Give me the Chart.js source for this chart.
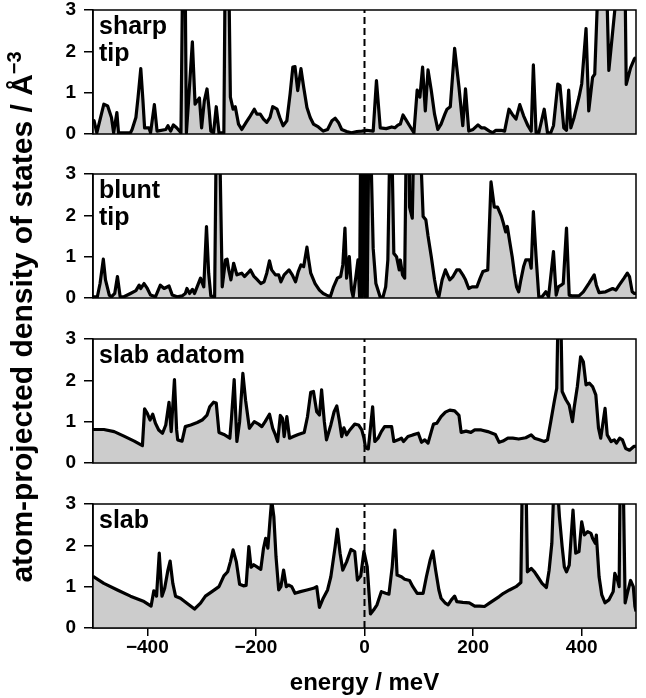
<!DOCTYPE html>
<html>
<head>
<meta charset="utf-8">
<script src="https://cdn.jsdelivr.net/npm/chart.js@4.4.1/dist/chart.umd.min.js"></script>
<style>
  html, body { margin: 0; padding: 0; background: #fff; }
  #fig { position: relative; width: 646px; height: 698px; overflow: hidden; }
  canvas { position: absolute; left: 0; }
  #ylabel {
    position: absolute; left: -328px; top: 300px; width: 700px; height: 34px;
    line-height: 34px; text-align: center; transform: rotate(-90deg);
    font: bold 30px "Liberation Sans", Arial, sans-serif; color: #000; white-space: nowrap;
  }
  #ylabel sup { font-size: 20px; line-height: 0; vertical-align: 11px; }
</style>
</head>
<body>
<div id="fig">
  <canvas id="p1" width="646" height="164" style="top:-10px"></canvas>
  <canvas id="p2" width="646" height="164" style="top:154px"></canvas>
  <canvas id="p3" width="646" height="164" style="top:319px"></canvas>
  <canvas id="p4" width="646" height="214" style="top:484px"></canvas>
  <div id="ylabel">atom-projected density of states / Å<sup>−3</sup></div>
</div>
<script>
// ── data (energy in meV, DOS in Å^-3) ──────────────────────────
const xTicks = [-400, -200, 0, 200, 400];
const yTicks = [0, 1, 2, 3];

const sharpE = [-500, -498, -493, -480, -473, -466, -462, -456, -453, -431, -428, -421, -417, -412, -408, -405,
  -397, -394, -387, -382, -366, -362, -357, -352, -346, -338, -334, -331, -328, -324, -317, -312, -308, -304,
  -300, -295, -290, -286, -283, -278, -273, -268, -259, -256, -251, -247, -242, -238, -232, -226, -218, -212,
  -203, -198, -192, -186, -180, -174, -169, -161, -156, -150, -143, -137, -132, -128, -123, -117, -112, -106,
  -100, -94, -85, -76, -68, -60, -54, -48, -42, -33, -24, -14, -5, 4, 16, 22, 29, 40, 50, 56, 62, 66, 71, 77,
  83, 91, 97, 102, 107, 112, 117, 123, 129, 135, 141, 148, 152, 158, 166, 174, 181, 186, 192, 200, 209, 215,
  221, 230, 236, 242, 252, 258, 266, 272, 279, 286, 293, 301, 307, 311, 316, 321, 331, 337, 343, 348, 356, 360,
  367, 372, 376, 380, 386, 395, 400, 408, 413, 420, 424, 430, 438, 446, 450, 467, 475, 480, 482, 490, 497, 500];
const sharpDos = [0.30, 0.32, 0.03, 0.72, 0.68, 0.40, 0.03, 0.52, 0.03, 0.03, 0.11, 0.40, 0.89, 1.58, 0.80, 0.15,
  0.15, 0.03, 0.71, 0.07, 0.11, 0.20, 0.07, 0.22, 0.15, 0.03, 5.0, 5.0, 0.03, 0.80, 2.23, 0.72, 0.80, 0.87,
  0.15, 0.80, 1.09, 0.56, 0.07, 0.03, 0.66, 0.03, 0.03, 5.0, 5.0, 0.89, 0.60, 0.66, 0.24, 0.11, 0.28, 0.40,
  0.60, 0.48, 0.48, 0.36, 0.28, 0.40, 0.66, 0.60, 0.40, 0.20, 0.32, 0.97, 1.62, 1.63, 1.05, 1.58, 1.13, 0.64,
  0.40, 0.24, 0.17, 0.07, 0.11, 0.32, 0.38, 0.28, 0.11, 0.06, 0.03, 0.06, 0.07, 0.09, 0.07, 1.29, 0.15, 0.13, 0.17, 0.15, 0.22, 0.24, 0.46, 0.33,
  0.20, 0.03, 1.06, 0.89, 1.62, 0.56, 1.55, 1.05, 0.48, 0.11, 0.24, 0.48, 0.60, 0.66, 2.07, 1.13, 0.20, 1.09, 0.07, 0.11, 0.22, 0.15,
  0.15, 0.07, 0.03, 0.09, 0.09, 0.07, 0.60, 0.48, 0.36, 0.71, 0.44, 0.20, 0.07, 1.67, 0.03, 0.03, 0.60, 0.03, 0.03, 0.20, 1.21, 1.17,
  0.15, 0.09, 1.06, 0.15, 0.40, 0.89, 1.21, 2.55, 0.56, 1.37, 1.45, 3.6, 4.0, 3.6, 1.54, 3.8, 4.0, 3.5, 1.20, 1.60, 1.82, 1.85];

const bluntE = [-500, -492, -487, -481, -477, -470, -466, -460, -455, -450, -443, -431, -421, -415, -412, -406,
  -400, -394, -385, -376, -369, -360, -354, -345, -336, -330, -327, -322, -317, -313, -307, -302, -296, -291,
  -287, -283, -276, -273, -267, -262, -256, -253, -250, -246, -241, -235, -226, -221, -215, -210, -204, -198,
  -191, -185, -180, -175, -171, -164, -158, -154, -148, -139, -133, -127, -122, -117, -112, -106, -103, -99,
  -91, -83, -76, -70, -63, -57, -50, -44, -40, -36, -33, -28, -24, -21, -16, -12, -9, -7, -5, -3, -1, 1, 3, 5,
  8, 11, 16, 21, 29, 34, 39, 43, 47, 50, 54, 59, 64, 66, 70, 74, 77, 82, 83, 88, 91, 102, 108, 113, 117, 123,
  129, 133, 137, 143, 149, 157, 163, 170, 175, 181, 186, 192, 198, 207, 213, 218, 227, 233, 239, 245, 252, 256,
  260, 263, 267, 272, 276, 280, 284, 288, 293, 297, 304, 307, 311, 316, 321, 327, 334, 339, 348, 353, 357, 362,
  366, 372, 377, 383, 395, 403, 413, 423, 427, 432, 444, 457, 463, 469, 478, 484, 488, 493, 497, 500];
const bluntDos = [0.03, 0.03, 0.35, 0.94, 0.44, 0.07, 0.03, 0.11, 0.52, 0.03, 0.03, 0.11, 0.18, 0.31, 0.23, 0.35,
  0.23, 0.07, 0.03, 0.31, 0.23, 0.29, 0.07, 0.03, 0.05, 0.11, 0.23, 0.11, 0.21, 0.11, 0.31, 0.48, 0.27, 1.73,
  0.60, 0.05, 0.03, 4.0, 4.0, 0.27, 0.92, 0.94, 0.68, 0.44, 0.84, 0.56, 0.60, 0.52, 0.60, 0.68, 0.53, 0.45,
  0.35, 0.39, 0.60, 0.90, 0.68, 0.56, 0.56, 0.39, 0.56, 0.68, 0.56, 0.39, 0.64, 0.80, 0.76, 1.23, 0.94, 0.60,
  0.35, 0.19, 0.11, 0.07, 0.03, 0.27, 0.48, 0.52, 0.80, 1.69, 0.48, 1.00, 0.20, 0.03, 0.50, 0.92, 0.03, 4.0, 0.03, 4.0, 4.0, 0.03, 4.0, 0.03,
  4.0, 4.0, 1.20, 0.35, 0.02, 0.02, 0.27, 0.92, 4.0, 4.0, 1.08, 1.00, 0.68, 0.92, 0.56, 0.48, 4.0, 4.0, 2.20, 1.93, 4.0, 4.0, 1.97, 1.89, 1.50, 1.00,
  0.44, 0.15, 0.03, 0.44, 0.68, 0.44, 0.52, 0.68, 0.68, 0.56, 0.44, 0.23, 0.27, 0.27, 0.48, 0.64, 0.68, 2.81, 2.20, 2.20, 1.98, 1.80,
  1.60, 1.73, 1.40, 1.00, 0.60, 0.27, 0.15, 0.44, 0.76, 0.92, 0.92, 0.72, 2.09, 1.00, 0.03, 0.03, 0.15, 0.03, 1.12, 0.07, 0.27, 0.31,
  0.35, 1.69, 0.07, 0.05, 0.05, 0.15, 0.35, 0.56, 0.31, 0.13, 0.15, 0.23, 0.19, 0.31, 0.48, 0.60, 0.52, 0.15, 0.11, 0.11];

const adatomE = [-500, -480, -461, -443, -424, -409, -405, -400, -395, -390, -385, -379, -372, -366, -360, -356,
  -350, -346, -344, -336, -330, -320, -308, -299, -290, -285, -278, -273, -268, -259, -248, -245, -240, -235,
  -230, -224, -219, -212, -203, -195, -189, -183, -175, -169, -164, -160, -155, -151, -148, -143, -138, -131,
  -122, -111, -105, -99, -94, -88, -83, -79, -74, -70, -62, -56, -51, -46, -42, -38, -33, -27, -18, -11, -5,
  -1, 2, 7, 15, 19, 25, 31, 37, 50, 54, 62, 68, 72, 80, 89, 99, 105, 111, 117, 123, 127, 133, 141, 149, 157,
  166, 174, 178, 187, 196, 203, 215, 227, 241, 248, 255, 264, 273, 284, 297, 307, 313, 322, 331, 337, 343,
  349, 354, 357, 361, 364, 371, 377, 383, 386, 392, 398, 403, 408, 414, 420, 426, 431, 435, 443, 447, 454,
  460, 464, 470, 475, 481, 488, 496, 500];
const adatomDos = [0.81, 0.81, 0.76, 0.65, 0.53, 0.42, 1.31, 1.20, 1.04, 1.18, 0.96, 0.80, 0.72, 0.92, 1.47, 0.76,
  2.02, 0.80, 0.56, 0.53, 0.88, 0.92, 0.98, 1.04, 1.16, 1.36, 1.47, 1.45, 0.74, 0.69, 0.60, 1.08, 2.02, 0.52,
  1.00, 2.17, 1.52, 0.84, 1.00, 0.94, 0.88, 1.00, 1.18, 0.84, 0.68, 0.52, 1.15, 1.08, 0.64, 1.12, 0.60, 0.64,
  0.69, 0.74, 1.12, 1.71, 1.73, 1.24, 1.16, 1.77, 1.00, 0.56, 0.92, 1.24, 1.38, 1.00, 0.64, 0.85, 0.68, 0.80, 0.94, 0.92, 0.80,
  0.60, 0.37, 0.34, 1.36, 0.52, 0.60, 0.76, 0.88, 0.88, 0.52, 0.56, 0.60, 0.52, 0.64, 0.68, 0.72, 0.50, 0.56, 0.48, 0.76, 0.94, 0.96, 1.12, 1.23, 1.28,
  1.26, 1.15, 0.74, 0.77, 0.74, 0.80, 0.80, 0.76, 0.69, 0.50, 0.53, 0.60, 0.60, 0.58, 0.61, 0.68, 0.60, 0.56, 0.52, 0.56, 1.00,
  1.45, 1.81, 4.0, 4.0, 1.73, 1.53, 1.40, 1.00, 1.33, 1.85, 2.57, 2.45, 1.89, 1.93, 1.85, 1.65, 0.84, 0.60, 1.32, 0.68, 0.52,
  0.56, 0.48, 0.60, 0.56, 0.35, 0.31, 0.40, 0.40];

const slabE = [-500, -480, -455, -431, -406, -393, -388, -383, -378, -373, -368, -362, -358, -353, -348, -339,
  -327, -313, -302, -293, -281, -268, -259, -252, -247, -242, -236, -230, -223, -218, -213, -209, -204, -198,
  -191, -186, -182, -178, -174, -171, -167, -163, -158, -154, -149, -144, -140, -134, -128, -118, -106, -94,
  -88, -83, -76, -68, -62, -54, -50, -45, -40, -33, -25, -18, -13, -7, -1, 5, 11, 17, 23, 31, 39, 45, 51, 56,
  60, 68, 74, 83, 89, 97, 108, 114, 121, 126, 131, 137, 141, 149, 154, 160, 166, 170, 181, 193, 203, 212, 221,
  230, 239, 248, 256, 267, 279, 288, 291, 297, 300, 307, 313, 319, 327, 335, 340, 345, 349, 355, 359, 364, 368,
  372, 377, 384, 389, 395, 400, 405, 411, 417, 420, 425, 427, 432, 437, 443, 450, 458, 461, 466, 469, 471, 476,
  480, 484, 490, 495, 498, 500];
const slabDos = [1.25, 1.08, 0.92, 0.77, 0.64, 0.53, 0.90, 0.77, 1.81, 0.77, 0.96, 1.40, 1.62, 1.08, 0.77, 0.72,
  0.60, 0.46, 0.60, 0.77, 0.88, 1.00, 1.26, 1.36, 1.60, 1.89, 1.60, 1.06, 1.02, 1.03, 1.97, 1.47, 1.53, 1.48,
  1.42, 1.93, 2.17, 1.93, 2.61, 3.10, 2.70, 1.73, 0.92, 1.00, 1.40, 1.00, 1.04, 1.00, 0.84, 0.88, 0.92, 0.96,
  1.00, 0.50, 0.72, 0.92, 1.24, 1.97, 2.39, 1.81, 1.40, 1.60, 1.90, 1.85, 1.16, 1.26, 1.85, 1.48, 0.34, 0.44, 0.56, 0.88, 0.84, 0.82, 1.48, 2.37,
  1.28, 1.24, 1.18, 1.15, 1.00, 0.84, 0.84, 1.24, 1.65, 1.86, 1.40, 0.92, 0.72, 0.60, 0.56, 0.68, 0.77, 0.64, 0.62, 0.61, 0.53, 0.53, 0.52,
  0.60, 0.68, 0.76, 0.84, 0.92, 1.00, 1.10, 4.0, 4.0, 1.36, 1.44, 1.36, 1.24, 1.08, 0.98, 1.40, 2.05, 3.5, 3.5, 2.69, 1.97, 1.48,
  1.36, 1.52, 2.85, 1.81, 1.85, 2.57, 2.25, 2.33, 2.29, 2.17, 2.05, 2.25, 1.24, 0.80, 0.61, 0.68, 0.88, 1.32, 1.16, 1.00, 4.0, 4.0,
  0.61, 0.84, 1.15, 1.00, 0.52, 0.40];

// ── styling ────────────────────────────────────────────────────
const FONT = '"Liberation Sans", Arial, sans-serif';
const tickFont = { family: FONT, size: 19, weight: 'bold' };

const framePlugin = {
  id: 'frame',
  afterDatasetsDraw(chart) {
    const { ctx, chartArea: a } = chart;
    ctx.save();
    ctx.strokeStyle = '#000';
    ctx.lineWidth = 1.5;
    ctx.strokeRect(a.left, a.top, a.right - a.left, a.bottom - a.top);
    ctx.restore();
  },
};

const labelPlugin = {
  id: 'panelLabel',
  afterDraw(chart, args, opts) {
    const { ctx, chartArea: a } = chart;
    ctx.save();
    ctx.font = 'bold 25px ' + FONT;
    ctx.fillStyle = '#000';
    ctx.textBaseline = 'alphabetic';
    opts.lines.forEach((t, i) => ctx.fillText(t, a.left + 6, a.top + 24 + i * 27));
    ctx.restore();
  },
};

function panel(id, energy, dos, lines, last) {
  const xScale = last ? {
    type: 'linear', min: -500, max: 500,
    afterBuildTicks: s => { s.ticks = xTicks.map(v => ({ value: v })); },
    afterFit: s => { s.height = 70; },
    ticks: {
      color: '#000', font: tickFont, padding: 0, autoSkip: false, maxRotation: 0,
      callback: v => (v < 0 ? '\u2212' + Math.abs(v) : String(v)),
    },
    grid: { drawOnChartArea: false, drawTicks: true, tickLength: 8, color: '#000', lineWidth: 1.5 },
    border: { display: true, color: '#000', width: 1.5 },
    title: {
      display: true, text: 'energy / meV', color: '#000',
      font: { family: FONT, size: 24, weight: 'bold' }, padding: { top: 0, bottom: 0 },
    },
  } : { type: 'linear', min: -500, max: 500, display: false };

  new Chart(document.getElementById(id), {
    type: 'line',
    data: {
      datasets: [
        {
          data: [{ x: 0, y: 0 }, { x: 0, y: 3 }],
          borderColor: '#000', borderWidth: 2, borderDash: [7, 4],
          pointRadius: 0, fill: false, order: 0,
        },
        {
          data: energy.map((e, i) => ({ x: e, y: dos[i] })),
          borderColor: '#000', borderWidth: 3.2, borderJoinStyle: 'round',
          backgroundColor: '#cccccc', fill: 'origin',
          pointRadius: 0, tension: 0, order: 1,
        },
      ],
    },
    options: {
      responsive: false,
      animation: false,
      layout: { padding: { left: 0, right: 10, top: 20, bottom: last ? 0 : 20 } },
      plugins: { legend: { display: false }, tooltip: { enabled: false }, panelLabel: { lines } },
      scales: {
        x: xScale,
        y: {
          min: 0, max: 3,
          afterFit: s => { s.width = 93; },
          afterBuildTicks: s => { s.ticks = yTicks.map(v => ({ value: v })); },
          ticks: { color: '#000', font: tickFont, padding: 8 },
          grid: { drawOnChartArea: false, drawTicks: true, tickLength: 9, color: '#000', lineWidth: 1.5 },
          border: { display: true, color: '#000', width: 1.5 },
        },
      },
    },
    plugins: [framePlugin, labelPlugin],
  });
}

panel('p1', sharpE, sharpDos, ['sharp', 'tip'], false);
panel('p2', bluntE, bluntDos, ['blunt', 'tip'], false);
panel('p3', adatomE, adatomDos, ['slab adatom'], false);
panel('p4', slabE, slabDos, ['slab'], true);
</script>
</body>
</html>
